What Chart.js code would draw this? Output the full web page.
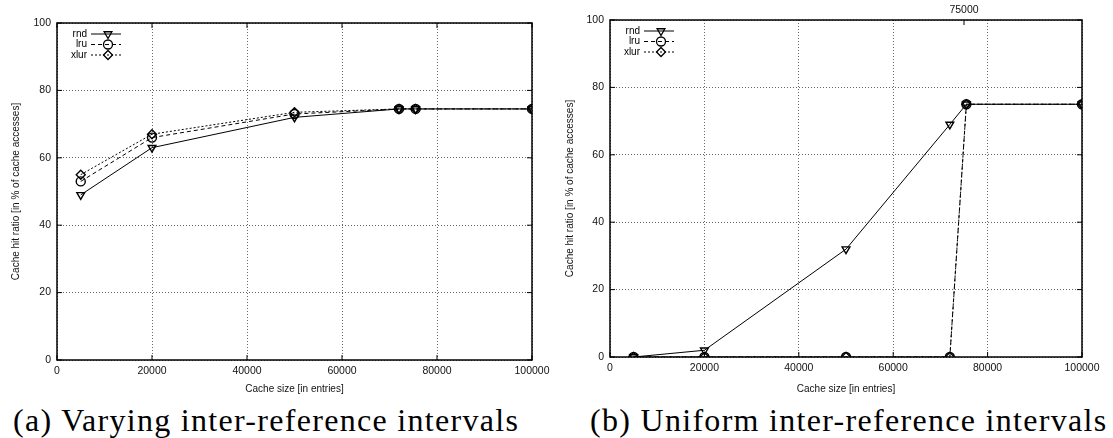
<!DOCTYPE html>
<html>
<head>
<meta charset="utf-8">
<script src="https://cdn.jsdelivr.net/npm/chart.js@4/dist/chart.umd.min.js"></script>
<style>
  body { margin: 0; background: #fff; width: 1113px; height: 438px; overflow: hidden; position: relative; }
  canvas { position: absolute; top: 0; }
  #chartA { left: 0; }
  #chartB { left: 556px; }
  .caption { position: absolute; top: 404px; font-family: "Liberation Serif", serif; font-size: 32px; letter-spacing: 1.3px; line-height: 1; color: #000; white-space: nowrap; }
</style>
</head>
<body>
<canvas id="chartA" width="556" height="395"></canvas>
<canvas id="chartB" width="557" height="395"></canvas>
<div class="caption" id="capA" style="left:13px"></div>
<div class="caption" id="capB" style="left:590px"></div>
<script>
// Datos
const sizes = [5000, 20000, 50000, 72000, 75500, 100000];
const seriesNames = ['rnd', 'lru', 'xlur'];

// (a) intervalos variables
const rndA = [49, 63, 72, 74.5, 74.5, 74.5];
const lruA = [53, 66, 73, 74.5, 74.5, 74.5];
const xlurA = [55, 67, 73.5, 74.5, 74.5, 74.5];

// (b) intervalos uniformes
const rndB = [0, 2, 32, 69, 75, 75];
const lruB = [0, 0, 0, 0, 75, 75];
const xlurB = [0, 0, 0, 0, 75, 75];

const xTickValues = [0, 20000, 40000, 60000, 80000, 100000];
const yTickValues = [0, 20, 40, 60, 80, 100];
const topTickValuesB = [75000];

const captions = ['(a) Varying inter-reference intervals', '(b) Uniform inter-reference intervals'];
const xTitle = 'Cache size [in entries]';
const yTitle = 'Cache hit ratio [in % of cache accesses]';

document.getElementById('capA').textContent = captions[0];
document.getElementById('capB').textContent = captions[1];

const FONT = { family: 'Liberation Sans, Arial, sans-serif', size: 10 };
const TICKFONT = { family: 'Liberation Sans, Arial, sans-serif', size: 10.5 };
const GRID = '#666';
const estilos = [
    { dash: [], pointStyle: 'triangle', rotation: 180 },
    { dash: [4, 3], pointStyle: 'circle', rotation: 0 },
    { dash: [2, 2], pointStyle: 'rectRot', rotation: 0 }
];

function crearDatasets(valores) {
    return valores.map((serie, i) => ({
        label: seriesNames[i],
        data: sizes.map((x, j) => ({ x: x, y: serie[j] })),
        borderColor: '#000',
        borderWidth: 1,
        borderDash: estilos[i].dash,
        pointStyle: estilos[i].pointStyle,
        rotation: estilos[i].rotation,
        pointRadius: 4.5,
        pointBorderWidth: 1.4,
        pointBorderColor: '#000',
        pointBackgroundColor: 'rgba(0,0,0,0)',
        tension: 0
    }));
}

// Marco, marcas interiores y leyenda dentro del area
const marcoPlugin = {
    id: 'marco',
    afterDraw(chart) {
        const ctx = chart.ctx;
        const a = chart.chartArea;
        ctx.save();
        ctx.strokeStyle = '#000';
        ctx.lineWidth = 1.5;
        ctx.setLineDash([]);
        ctx.strokeRect(a.left, a.top, a.right - a.left, a.bottom - a.top);

        ctx.lineWidth = 1;
        const xs = chart.scales.x;
        xs.ticks.forEach(t => {
            const px = xs.getPixelForValue(t.value);
            ctx.beginPath();
            ctx.moveTo(px, a.bottom); ctx.lineTo(px, a.bottom - 5);
            if (!chart.scales.x2) { ctx.moveTo(px, a.top); ctx.lineTo(px, a.top + 5); }
            ctx.stroke();
        });
        const ys = chart.scales.y;
        ys.ticks.forEach(t => {
            const py = ys.getPixelForValue(t.value);
            ctx.beginPath();
            ctx.moveTo(a.left, py); ctx.lineTo(a.left + 5, py);
            ctx.moveTo(a.right, py); ctx.lineTo(a.right - 5, py);
            ctx.stroke();
        });
        if (chart.scales.x2) {
            const x2 = chart.scales.x2;
            x2.ticks.forEach(t => {
                const px = x2.getPixelForValue(t.value);
                ctx.beginPath();
                ctx.moveTo(px, a.top); ctx.lineTo(px, a.top + 5);
                ctx.stroke();
            });
        }

        // Leyenda
        ctx.font = '10px ' + FONT.family;
        ctx.textAlign = 'right';
        ctx.textBaseline = 'middle';
        chart.data.datasets.forEach((ds, i) => {
            const y = a.top + 11 + i * 10.5;
            ctx.fillStyle = '#000';
            ctx.fillText(ds.label, a.left + 30, y);
            ctx.beginPath();
            ctx.setLineDash(ds.borderDash);
            ctx.lineWidth = 1;
            ctx.moveTo(a.left + 34, y);
            ctx.lineTo(a.left + 64, y);
            ctx.stroke();
            ctx.setLineDash([]);
            ctx.fillStyle = 'rgba(0,0,0,0)';
            ctx.lineWidth = 1.3;
            Chart.helpers.drawPoint(ctx, {
                pointStyle: ds.pointStyle,
                rotation: ds.rotation,
                radius: 4.5,
                borderWidth: 1.3
            }, a.left + 51, y);
        });
        ctx.restore();
    }
};

function crearGrafico(id, valores, opciones) {
    const ctx = document.getElementById(id).getContext('2d');
    const scales = {
        x: {
            type: 'linear',
            min: 0,
            max: 100000,
            afterBuildTicks: (axis) => { axis.ticks = xTickValues.map(v => ({ value: v })); },
            afterFit: (axis) => { axis.height = opciones.xHeight; },
            ticks: { font: TICKFONT, color: '#111', padding: 5, maxRotation: 0, callback: v => String(v) },
            grid: { color: GRID, lineWidth: 1, drawTicks: false },
            border: { display: false, dash: [1, 2] },
            title: { display: true, text: xTitle, font: FONT, color: '#111', padding: { top: 3, bottom: 0 } }
        },
        y: {
            min: 0,
            max: 100,
            afterBuildTicks: (axis) => { axis.ticks = yTickValues.map(v => ({ value: v })); },
            afterFit: (axis) => { axis.width = opciones.yWidth; },
            ticks: { font: TICKFONT, color: '#111', padding: 6 },
            grid: { color: GRID, lineWidth: 1, drawTicks: false },
            border: { display: false, dash: [1, 2] },
            title: { display: true, text: yTitle, font: FONT, color: '#111', padding: { top: opciones.yTitlePad, bottom: 0 } }
        }
    };
    if (opciones.topTicks) {
        scales.x2 = {
            type: 'linear',
            position: 'top',
            min: 0,
            max: 100000,
            afterBuildTicks: (axis) => { axis.ticks = opciones.topTicks.map(v => ({ value: v })); },
            afterFit: (axis) => { axis.height = opciones.topHeight; },
            ticks: { font: TICKFONT, color: '#111', padding: 4, maxRotation: 0, callback: v => String(v) },
            grid: { display: false, drawTicks: false },
            border: { display: false }
        };
    }
    return new Chart(ctx, {
        type: 'line',
        data: { datasets: crearDatasets(valores) },
        options: {
            responsive: false,
            animation: false,
            layout: { padding: opciones.padding },
            scales: scales,
            plugins: {
                legend: { display: false },
                tooltip: { enabled: false }
            }
        },
        plugins: [marcoPlugin]
    });
}

crearGrafico('chartA', [rndA, lruA, xlurA], {
    padding: { top: 23, right: 24, left: 0, bottom: 0 },
    xHeight: 35,
    yWidth: 57,
    yTitlePad: 10
});

crearGrafico('chartB', [rndB, lruB, xlurB], {
    padding: { top: 0, right: 31, left: 0, bottom: 0 },
    xHeight: 38,
    yWidth: 54,
    yTitlePad: 8,
    topTicks: topTickValuesB,
    topHeight: 20
});
</script>
</body>
</html>
